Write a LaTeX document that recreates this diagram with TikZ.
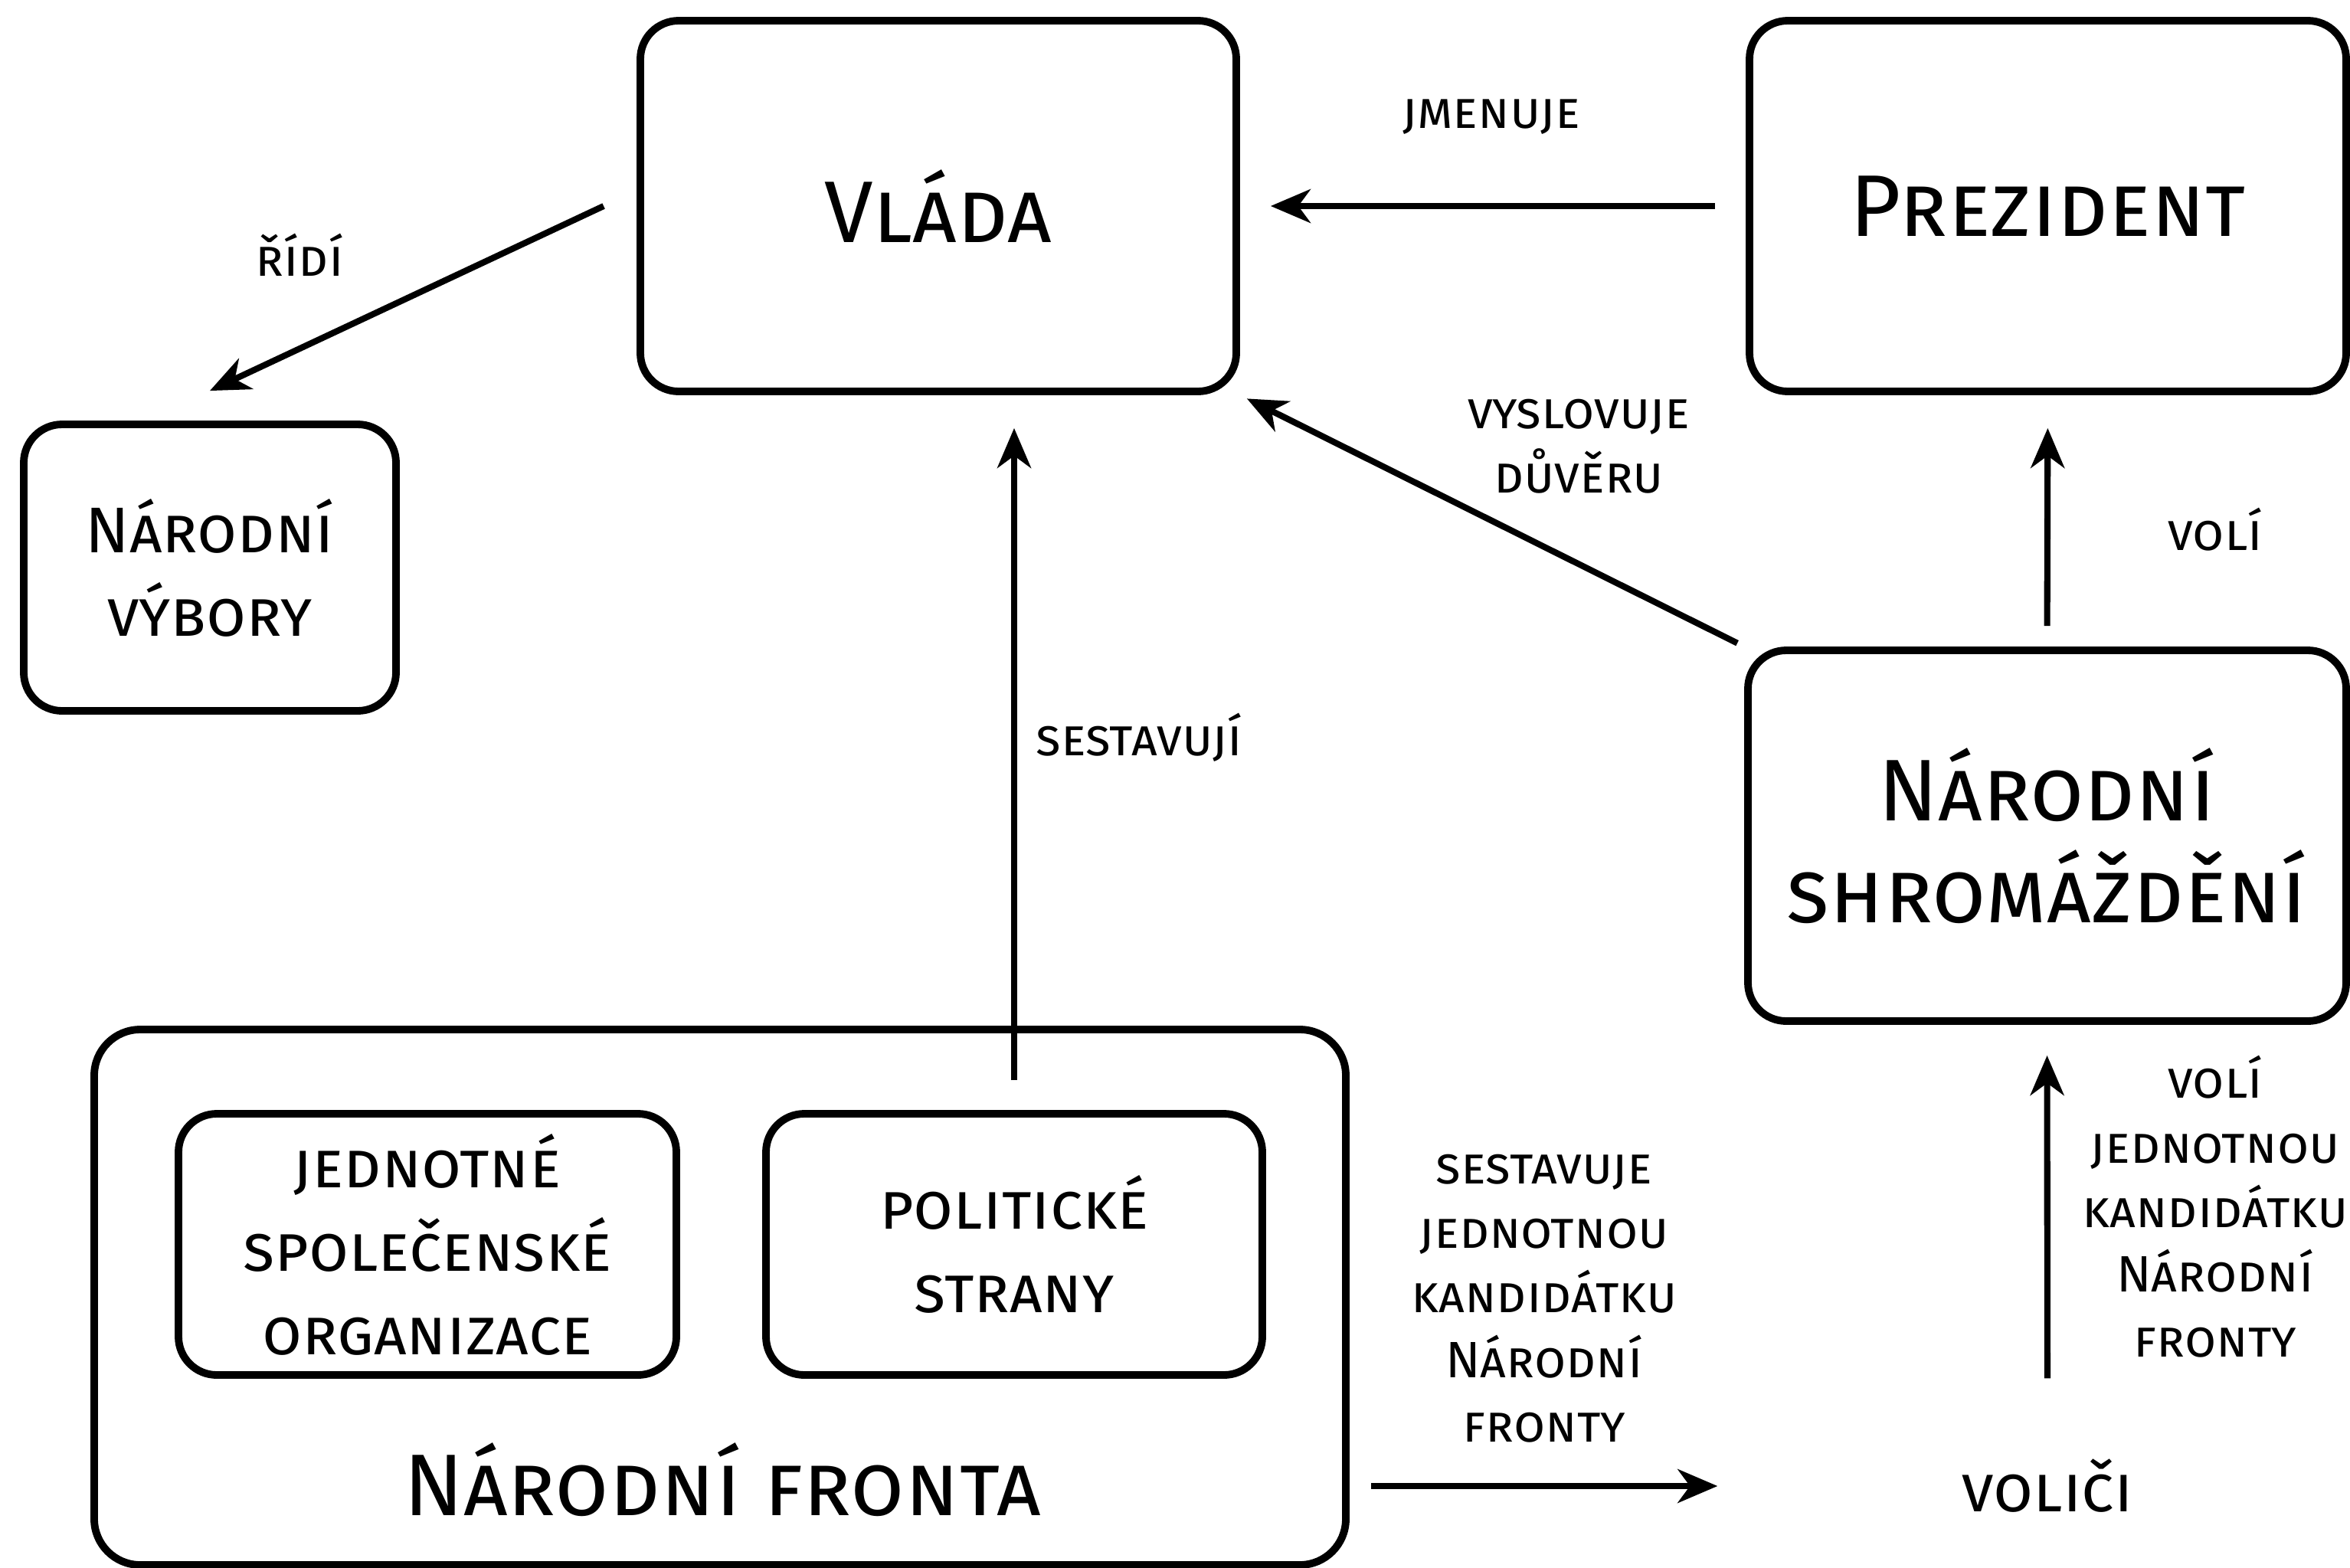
\documentclass[tikz,border=0pt]{standalone}
\usepackage{fontspec}
\setmainfont{Fira Sans}
\usetikzlibrary{arrows.meta,positioning}
\begin{document}
\begin{tikzpicture}[box/.style={draw,line width=2.8pt,rounded corners=0.5cm,align=center,inner sep=0},
	big/.style={font=\fontsize{32.5}{38}\selectfont\scshape},
	mid/.style={font=\fontsize{24}{31}\selectfont\scshape},
	lbl/.style={align=center,font=\fontsize{19}{24}\selectfont\scshape},
	arr/.style={-{Stealth[length=5.2mm,width=4.4mm,inset=1.6mm]},line width=2.3pt,
	shorten <=0.4cm,shorten >=0.4cm}]
\useasboundingbox (0,0) rectangle (30.68,-20.46);
% boxes
\node[box,big,minimum width=7.78cm,minimum height=4.84cm] (vlada) at (12.25,-2.69) {Vláda};
\node[box,big,minimum width=7.79cm,minimum height=4.84cm] (prezident) at (26.735,-2.69) {Prezident};
\node[box,mid,minimum width=4.86cm,minimum height=3.74cm] (vybory) at (2.74,-7.41) {Národní\\výbory};
\node[box,big,minimum width=7.81cm,minimum height=4.84cm] (shrom) at (26.725,-10.91) {Národní\\shromáždění};
\node[box,rounded corners=0.6cm,minimum width=16.34cm,minimum height=6.99cm] (fronta) at (9.40,-16.935) {};
\node[big] (fronta-title) at (9.43,-19.32) {Národní fronta};
\node[box,mid,minimum width=6.5cm,minimum height=3.41cm] (organizace) at (5.58,-16.245) {jednotné\\společenské\\organizace};
\node[box,mid,minimum width=6.48cm,minimum height=3.41cm] (strany) at (13.24,-16.245) {politické\\strany};
\node[mid,minimum width=7.8cm,minimum height=2.0cm,inner sep=0] (volici) at (26.73,-19.40) {voliči};
% arrows
\draw[arr] (prezident.west) -- (vlada.east);
\draw[arr,shorten <=0,shorten >=0] ([xshift=-0.43cm]vlada.west) -- ([yshift=0.39cm]vybory.north);
\draw[arr,shorten <=0.1cm,shorten >=0.1cm] (shrom.north west) -- (vlada.south east);
\draw[arr,shorten <=0.27cm,shorten >=0.43cm] (shrom.north) -- (prezident.south);
\draw[arr,shorten <=0,shorten >=0.43cm] ([yshift=0.39cm]strany.north) -- (vlada.south -| strany.north);
\draw[arr,shorten <=0.28cm] (volici.west -| fronta.east) -- (volici.west);
\draw[arr] (volici.north) -- (shrom.south);
% labels
\node[lbl] (l-jmenuje) at (19.47,-1.53) {jmenuje};
\node[lbl] (l-ridi) at (3.91,-3.33) {řídí};
\node[lbl] (l-duvera) at (20.61,-5.83) {vyslovuje\\důvěru};
\node[lbl] (l-voli) at (28.92,-6.91) {volí};
\node[lbl] (l-sestavuji) at (14.87,-9.63) {sestavují};
\node[lbl] (l-kandidatka) at (20.16,-16.95) {sestavuje\\jednotnou\\kandidátku\\Národní\\fronty};
\node[lbl] (l-volba) at (28.92,-15.75) {volí\\jednotnou\\kandidátku\\Národní\\fronty};
\end{tikzpicture}
\end{document}
